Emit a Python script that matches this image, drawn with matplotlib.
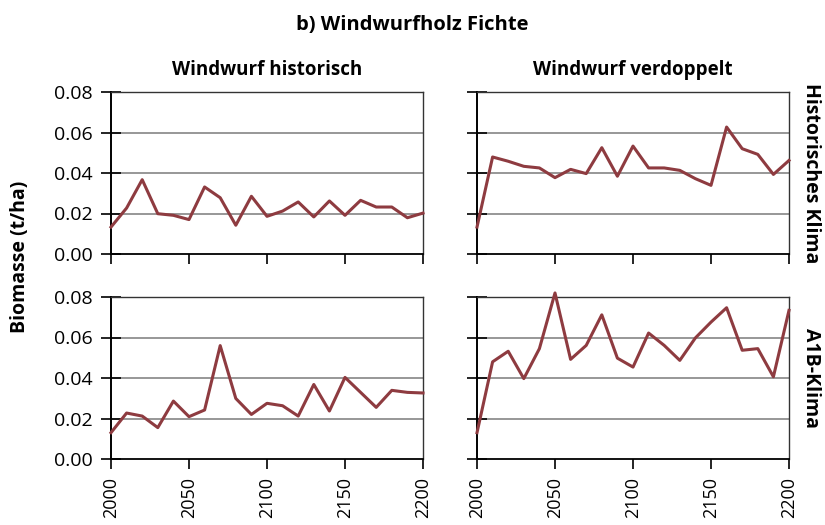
import numpy as np
import matplotlib
matplotlib.use("Agg")
from matplotlib import pyplot as plt

## Data (Biomasse t/ha, Windwurfholz Fichte)

years = list(range(2000, 2201, 10))

hist_hist = [0.0133, 0.0227, 0.0367, 0.0199, 0.0191, 0.0170, 0.0331, 0.0278, 0.0142, 0.0285,
             0.0186, 0.0212, 0.0257, 0.0183, 0.0262, 0.0191, 0.0265, 0.0232, 0.0232, 0.0179, 0.0202]
hist_dopp = [0.0133, 0.0479, 0.0458, 0.0433, 0.0425, 0.0377, 0.0418, 0.0397, 0.0525, 0.0384,
             0.0533, 0.0425, 0.0425, 0.0413, 0.0372, 0.0339, 0.0627, 0.0520, 0.0492, 0.0393, 0.0462]
a1b_hist = [0.0130, 0.0227, 0.0212, 0.0155, 0.0286, 0.0209, 0.0242, 0.0560, 0.0299, 0.0220,
            0.0275, 0.0263, 0.0212, 0.0368, 0.0237, 0.0403, 0.0329, 0.0255, 0.0339, 0.0329, 0.0326]
a1b_dopp = [0.0130, 0.0480, 0.0532, 0.0397, 0.0545, 0.0820, 0.0492, 0.0561, 0.0712, 0.0498,
            0.0454, 0.0622, 0.0561, 0.0487, 0.0598, 0.0676, 0.0747, 0.0537, 0.0545, 0.0406, 0.0734]

col_titles = ["Windwurf historisch", "Windwurf verdoppelt"]
row_titles = ["Historisches Klima", "A1B-Klima"]
y_ticks = [0.0, 0.02, 0.04, 0.06, 0.08]
x_ticks = [2000, 2050, 2100, 2150, 2200]

series = [[hist_hist, hist_dopp], [a1b_hist, a1b_dopp]]

line_color = "#8e3b40"
sans = ["Open Sans", "DejaVu Sans"]

fig = plt.figure(figsize=(8.25, 5.25), dpi=100)

lefts = [111/825, 477/825]
widths = [312/825, 312/825]
bottoms = [1 - 254/525, 1 - 459/525]
height = 162/525

for r in range(2):
	for c in range(2):
		ax = fig.add_axes([lefts[c], bottoms[r], widths[c], height])
		# line may run over the top frame (peak above 0.08)
		ax.plot(years, series[r][c], color=line_color, lw=2.2, clip_on=False, zorder=3)
		ax.set_xlim(2000, 2200)
		ax.set_ylim(0, 0.08)
		ax.set_yticks(y_ticks)
		ax.set_xticks(x_ticks)
		# horizontal grid lines
		for yv in y_ticks[1:-1]:
			ax.axhline(yv, color="#7a7a7a", lw=1.1, zorder=1)
		for s in ["top", "right"]:
			ax.spines[s].set_color("#333333")
			ax.spines[s].set_linewidth(1.0)
		ax.spines["left"].set_color("black")
		ax.spines["left"].set_linewidth(1.4)
		ax.spines["bottom"].set_color("black")
		ax.spines["bottom"].set_linewidth(1.3)
		ax.tick_params(axis='y', direction='inout', length=14, width=1.2, color="black", pad=6)
		ax.tick_params(axis='x', direction='out', length=7, width=1.2, color="black", pad=6)
		if c == 0:
			ax.set_yticklabels(["%.2f" % v for v in y_ticks], family=sans, fontsize=14)
		else:
			ax.set_yticklabels([])
		if r == 1:
			ax.set_xticklabels([str(v) for v in x_ticks], family=sans, fontsize=13, rotation=90)
		else:
			ax.set_xticklabels([])
		if r == 0:
			ax.set_title(col_titles[c], family=sans, fontsize=13.5, fontweight='bold', pad=12)
		if c == 1:
			ax.text(1.04, 0.5, row_titles[r], transform=ax.transAxes, rotation=-90,
				ha='left', va='center', family=sans, fontsize=14, fontweight='bold')

fig.text(0.5, 0.952, "b) Windwurfholz Fichte", ha='center', va='center',
	family=sans, fontsize=14.5, fontweight='bold')
fig.text(0.024, 0.51, "Biomasse (t/ha)", rotation=90, ha='center', va='center',
	family=sans, fontsize=14, fontweight='bold')

fig.savefig("out.png", dpi=100)
